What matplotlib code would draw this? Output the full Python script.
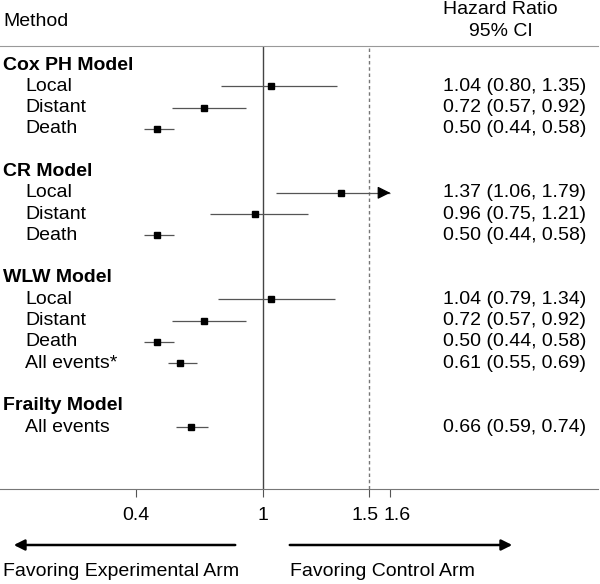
import numpy as np
import matplotlib
matplotlib.use('Agg')
import matplotlib.pyplot as plt
import matplotlib.transforms as mtransforms
from matplotlib.patches import FancyArrowPatch

plt.rcParams['font.family'] = ['Liberation Sans', 'DejaVu Sans']

# data
models = ['Cox PH Model', 'CR Model', 'WLW Model', 'Frailty Model']
outcomes = [['Local', 'Distant', 'Death'],
            ['Local', 'Distant', 'Death'],
            ['Local', 'Distant', 'Death', 'All events*'],
            ['All events']]
hr = [[1.04, 0.72, 0.50], [1.37, 0.96, 0.50], [1.04, 0.72, 0.50, 0.61], [0.66]]
lo = [[0.80, 0.57, 0.44], [1.06, 0.75, 0.44], [0.79, 0.57, 0.44, 0.55], [0.59]]
hi = [[1.35, 0.92, 0.58], [1.79, 1.21, 0.58], [1.34, 0.92, 0.58, 0.69], [0.74]]
xticks = [0.4, 1, 1.5, 1.6]
xtick_labels = ['0.4', '1', '1.5', '1.6']
ci_cap = 1.6
ref_line = 1.0
dash_line = 1.5

W, H = 600, 584
fig = plt.figure(figsize=(W / 100, H / 100), dpi=100)
ax_top, ax_bot = 46, 489   # pixel rows of header rule and x axis
ax = fig.add_axes([0, (H - ax_bot) / H, 598 / W, (ax_bot - ax_top) / H])

px_per_unit = 212.0
ax.set_xlim(1 - 263 / px_per_unit, 1 + (598 - 263) / px_per_unit)
row_h = 21.3
ax.set_ylim((ax_bot - 65) / row_h, -(65 - ax_top) / row_h)

fs = 14
tr = ax.get_yaxis_transform()
row = 0
for g, m in enumerate(models):
    ax.text(3 / 598, row, m, transform=tr, fontsize=fs, fontweight='bold',
            va='center', ha='left')
    row += 1
    for k, name in enumerate(outcomes[g]):
        ax.text(25 / 598, row, name, transform=tr, fontsize=fs, va='center')
        top = min(hi[g][k], ci_cap)
        ax.hlines(row, lo[g][k], top, color='#555555', lw=0.9, zorder=2)
        if hi[g][k] > ci_cap:
            # CI runs past the plotted range -> arrow at the cap
            ax.annotate('', xy=(ci_cap, row), xytext=(ci_cap - 0.02, row),
                        arrowprops=dict(arrowstyle='-|>', color='black',
                                        lw=0.9, mutation_scale=19))
        ax.plot(hr[g][k], row, 's', color='black', ms=4.8, zorder=3)
        ax.text(443 / 598, row,
                '{:.2f} ({:.2f}, {:.2f})'.format(hr[g][k], lo[g][k], hi[g][k]),
                transform=tr, fontsize=fs, va='center', ha='left')
        row += 1
    row += 1

ax.axvline(ref_line, color='#444444', lw=1.0, zorder=1)
ax.axvline(dash_line, color='#777777', lw=1.0, ls=(0, (2.5, 2)), zorder=1)

for s in ['left', 'right']:
    ax.spines[s].set_visible(False)
ax.spines['top'].set_color('#999999')
ax.spines['bottom'].set_color('#777777')
ax.set_yticks([])
ax.set_xticks(xticks)
ax.set_xticklabels(xtick_labels, fontsize=fs)
ax.tick_params(axis='x', direction='out', length=6, color='#555555', pad=7)
# the two close labels are pushed apart a little, as in the original
labels = ax.get_xticklabels()
labels[2].set_transform(labels[2].get_transform() +
                        mtransforms.ScaledTranslation(-0.04, 0, fig.dpi_scale_trans))
labels[3].set_transform(labels[3].get_transform() +
                        mtransforms.ScaledTranslation(0.07, 0, fig.dpi_scale_trans))

# header
fig.text(3 / W, 1 - 22 / H, 'Method', fontsize=fs, va='center', ha='left')
fig.text(500 / W, 1 - 10 / H, 'Hazard Ratio', fontsize=fs, va='center', ha='center')
fig.text(501 / W, 1 - 32 / H, '95% CI', fontsize=fs, va='center', ha='center')

# favoring arrows
ay = 1 - 545 / H
fig.add_artist(FancyArrowPatch((238 / W, ay), (11 / W, ay), transform=fig.transFigure,
                               arrowstyle='-|>', mutation_scale=16, lw=1.8, color='black'))
fig.add_artist(FancyArrowPatch((287 / W, ay), (515 / W, ay), transform=fig.transFigure,
                               arrowstyle='-|>', mutation_scale=16, lw=1.8, color='black'))
fig.text(3 / W, 1 - 572 / H, 'Favoring Experimental Arm', fontsize=fs,
         va='center', ha='left')
fig.text(290 / W, 1 - 572 / H, 'Favoring Control Arm', fontsize=fs,
         va='center', ha='left')

fig.savefig('out.png', dpi=100)
